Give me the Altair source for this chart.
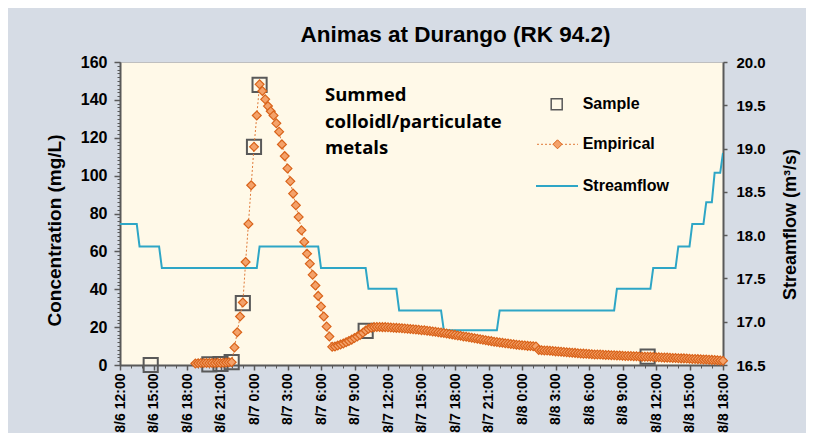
import altair as alt
import numpy as np
import pandas as pd

# ---------------- data (hours after 8/6 12:00) ----------------
x_tick_hours = [0, 3, 6, 9, 12, 15, 18, 21, 24, 27, 30, 33, 36, 39, 42, 45, 48, 51, 54]
x_tick_labels = ["8/6 12:00", "8/6 15:00", "8/6 18:00", "8/6 21:00", "8/7 0:00", "8/7 3:00",
                 "8/7 6:00", "8/7 9:00", "8/7 12:00", "8/7 15:00", "8/7 18:00", "8/7 21:00",
                 "8/8 0:00", "8/8 3:00", "8/8 6:00", "8/8 9:00", "8/8 12:00", "8/8 15:00", "8/8 18:00"]

sample_hours = [2.75, 8.0, 9.0, 10.0, 11.0, 12.0, 12.5, 22.0, 47.25]
sample_conc = [0.0, 0.3, 0.5, 1.5, 32.7, 115.2, 147.9, 18.0, 4.4]

# Empirical series: 15-minute readings starting 8/6 18:45 (hour 6.75)
emp_start_hour = 6.75
emp_step_hour = 0.25
emp_conc = [
    0.8,                                   # 18:45
    0.9, 1.0, 1.0, 1.1,                    # 19
    1.0, 1.1, 1.0, 1.2,                    # 20
    1.1, 1.2, 1.3, 1.4,                    # 21
    1.5, 9.2, 17.3, 25.6,                  # 22
    33.0, 54.4, 74.5, 94.9,                # 23
    115.2, 131.8, 148.2, 144.7,            # 0
    140.3, 136.7, 134.0, 131.8,            # 1
    127.6, 123.2, 116.5, 110.3,            # 2
    103.8, 97.0, 90.5, 84.3,               # 3
    78.2, 71.1, 65.0, 58.8,                # 4
    53.5, 47.6, 42.0, 36.5,                # 5
    30.9, 25.6, 20.3, 15.0,                # 6
    9.6, 9.8, 10.3, 10.8,                  # 7
    11.4, 12.0, 12.7, 13.4,                # 8
    14.2, 15.0, 15.9, 17.0,                # 9
    18.2, 19.1, 19.7, 20.0,                # 10
    20.1, 20.1, 20.0, 20.0,                # 11
    19.9, 19.8, 19.7, 19.6,                # 12
    19.5, 19.4, 19.3, 19.1,                # 13
    19.0, 18.9, 18.7, 18.6,                # 14
    18.4, 18.3, 18.1, 17.9,                # 15
    17.7, 17.5, 17.3, 17.1,                # 16
    16.9, 16.6, 16.4, 16.1,                # 17
    15.9, 15.6, 15.4, 15.1,                # 18
    14.9, 14.6, 14.4, 14.1,                # 19
    13.9, 13.6, 13.3, 13.1,                # 20
    12.8, 12.6, 12.3, 12.1,                # 21
    11.9, 11.7, 11.5, 11.3,                # 22
    11.1, 10.9, 10.7, 10.6,                # 23
    10.4, 10.3, 10.1, 10.0,                # 0
    9.9, 9.8, 7.9, 7.8,                    # 1
    7.7, 7.6, 7.5, 7.4,                    # 2
    7.2, 7.1, 7.0, 6.9,                    # 3
    6.7, 6.6, 6.5, 6.4,                    # 4
    6.2, 6.1, 6.0, 5.9,                    # 5
    5.8, 5.7, 5.6, 5.6,                    # 6
    5.5, 5.4, 5.3, 5.3,                    # 7
    5.2, 5.1, 5.0, 5.0,                    # 8
    4.9, 4.8, 4.8, 4.7,                    # 9
    4.6, 4.6, 4.5, 4.4,                    # 10
    4.4, 4.3, 4.3, 4.2,                    # 11
    4.1, 4.1, 4.0, 3.9,                    # 12
    3.9, 3.8, 3.7, 3.7,                    # 13
    3.6, 3.5, 3.5, 3.4,                    # 14
    3.3, 3.2, 3.2, 3.1,                    # 15
    3.0, 2.9, 2.9, 2.8,                    # 16
    2.7, 2.6, 2.5, 2.4,                    # 17
    2.3,                                   # 18:00
]

flow_hours = [0, 1.5, 1.75, 3.5, 3.75, 12.25, 12.5, 17.75, 18.0, 22.0, 22.25, 24.75, 25.0,
              28.75, 29.0, 33.75, 34.0, 44.25, 44.5, 47.5, 47.75, 49.75, 50.0, 51.0, 51.25,
              52.25, 52.5, 53.0, 53.25, 53.75, 54.0]
flow_q = [18.13, 18.13, 17.87, 17.87, 17.62, 17.62, 17.87, 17.87, 17.62, 17.62, 17.38, 17.38, 17.13,
          17.13, 16.90, 16.90, 17.13, 17.13, 17.38, 17.38, 17.62, 17.62, 17.87, 17.87, 18.13,
          18.13, 18.38, 18.38, 18.72, 18.72, 18.95]

annot_hour = [18.36]
annot_conc = [139.4]
annot_text = ["Summed\ncolloidl/particulate\nmetals"]

# ---------------- frames ----------------
emp_hours = emp_start_hour + emp_step_hour * np.arange(len(emp_conc))
df_s = pd.DataFrame({"h": sample_hours, "c": sample_conc, "lab": "Sample"})
df_e = pd.DataFrame({"h": emp_hours, "c": emp_conc, "lab": "Empirical", "lab2": "Empirical "})
df_q = pd.DataFrame({"h": flow_hours, "q": flow_q, "lab": "Streamflow"})
df_a = pd.DataFrame({"h": annot_hour, "c": annot_conc, "t": annot_text})

FONT = "Liberation Sans"
AX = "#595959"
ORANGE_LINE = "#E07B39"
ORANGE_FILL = "#F4A26A"
ORANGE_EDGE = "#D9631A"
TEAL = "#2EA6C6"

xscale = alt.Scale(domain=[0, 54], nice=False, zero=False)
yscale = alt.Scale(domain=[0, 160], nice=False, zero=False)
qscale = alt.Scale(domain=[16.5, 20], nice=False, zero=False)

label_expr = "[" + ",".join("'%s'" % s for s in x_tick_labels) + "][round(datum.value/3)]"

x_main = alt.Axis(orient="bottom", values=x_tick_hours, labelExpr=label_expr, labelAngle=270,
                  labelFont=FONT, labelFontSize=14, labelFontWeight="bold", labelColor="black",
                  labelPadding=3, labelFlush=False, labelOverlap=False, tickSize=5, tickColor=AX,
                  tickWidth=1.5, domainColor=AX, domainWidth=2, grid=False, title=None)
x_minor = alt.Axis(orient="bottom", values=list(range(0, 55)), labels=False, tickSize=3,
                   tickColor=AX, tickWidth=1, domain=False, grid=False, title=None)
y_main = alt.Axis(orient="left", values=list(range(0, 161, 20)), labelFont=FONT, labelFontSize=16,
                  labelFontWeight="bold", labelColor="black", labelPadding=7, tickSize=6,
                  tickColor=AX, tickWidth=1.5, domainColor=AX, domainWidth=2, grid=False,
                  title="Concentration (mg/L)", titleFont=FONT, titleFontSize=19,
                  titleFontWeight="bold", titleColor="black", titleAngle=270, titleX=-66,
                  titleY=168, titleAlign="center", titleBaseline="middle")
y_minor = alt.Axis(orient="left", values=list(range(0, 161, 2)), labels=False, tickSize=3,
                   tickColor=AX, tickWidth=1, domain=False, grid=False, title=None)
q_axis = alt.Axis(orient="right", values=[16.5, 17.0, 17.5, 18.0, 18.5, 19.0, 19.5, 20.0],
                  format=".1f", labelFont=FONT, labelFontSize=15, labelFontWeight="bold",
                  labelColor="black", labelPadding=9, tickSize=4, tickColor=AX, tickWidth=1.5,
                  domainColor=AX, domainWidth=2, grid=False, title="Streamflow (m³/s)",
                  titleFont=FONT, titleFontSize=18, titleFontWeight="bold", titleColor="black",
                  titleAngle=270, titleX=67, titleY=162, titleAlign="center",
                  titleBaseline="middle")

leg = dict(orient="none", title=None, padding=0, labelFont=FONT, labelFontSize=16,
           labelFontWeight="bold", labelColor="black", labelLimit=0)

flow = alt.Chart(df_q).mark_line(strokeWidth=2, clip=True).encode(
    x=alt.X("h:Q", scale=xscale, axis=None),
    y=alt.Y("q:Q", scale=qscale, axis=q_axis),
    stroke=alt.Stroke("lab:N", scale=alt.Scale(range=[TEAL]),
                      legend=alt.Legend(legendX=415, legendY=102, symbolType="stroke",
                                        symbolSize=1764, symbolStrokeWidth=2,
                                        symbolStrokeColor=TEAL, labelOffset=3.7, **leg)),
)

samples = alt.Chart(df_s).mark_point(filled=False, size=200, strokeWidth=2, color=AX,
                                     opacity=1).encode(
    x=alt.X("h:Q", scale=xscale, axis=x_main),
    y=alt.Y("c:Q", scale=yscale, axis=y_main),
    shape=alt.Shape("lab:N", scale=alt.Scale(range=["square"]),
                    legend=alt.Legend(legendX=428.7, legendY=34.3, symbolType="square",
                                      symbolSize=121, symbolStrokeWidth=1.5,
                                      symbolStrokeColor=AX, symbolFillColor="transparent",
                                      labelOffset=18, **leg)),
)

emp_line = alt.Chart(df_e).mark_line(strokeWidth=1, color=ORANGE_LINE).encode(
    x=alt.X("h:Q", scale=xscale, axis=x_minor),
    y=alt.Y("c:Q", scale=yscale, axis=y_minor),
    strokeDash=alt.StrokeDash("lab2:N", scale=alt.Scale(range=[[2, 2]]),
                              legend=alt.Legend(legendX=416.5, legendY=61.3, symbolType="stroke",
                                                symbolSize=1681, symbolStrokeWidth=1,
                                                symbolStrokeColor=ORANGE_LINE, labelExpr="''",
                                                **leg)),
)

emp_pts = alt.Chart(df_e).mark_point(shape="diamond", filled=True, size=78, stroke=ORANGE_EDGE,
                                     strokeWidth=1.2, opacity=1).encode(
    x=alt.X("h:Q", scale=xscale, axis=None),
    y=alt.Y("c:Q", scale=yscale, axis=None),
    fill=alt.Fill("lab:N", scale=alt.Scale(range=[ORANGE_FILL]),
                  legend=alt.Legend(legendX=429.5, legendY=74.3, symbolType="diamond",
                                    symbolSize=81, symbolStrokeWidth=1,
                                    symbolStrokeColor=ORANGE_EDGE, symbolFillColor=ORANGE_FILL,
                                    labelOffset=17.2, **leg)),
)

annot = alt.Chart(df_a).mark_text(align="left", baseline="alphabetic", font="Open Sans",
                                  fontSize=18.5, fontWeight="bold", color="black",
                                  lineBreak="\n", lineHeight=26.7).encode(
    x=alt.X("h:Q", scale=xscale, axis=None),
    y=alt.Y("c:Q", scale=yscale, axis=None),
    text="t:N",
)

conc = alt.layer(samples, emp_line, emp_pts, annot).resolve_axis(x="independent", y="independent")

chart = alt.layer(flow, conc).resolve_scale(y="independent").properties(
    width=603, height=303,
    padding={"left": 112, "top": 54, "right": 83, "bottom": 68},
    autosize=alt.AutoSizeParams(type="none"),
    background="#D6DCE5",
    title=alt.Title("Animas at Durango (RK 94.2)", font=FONT, fontSize=22.5, fontWeight="bold",
                    color="black", anchor="middle", frame="group", dx=34, offset=8),
).configure_view(fill="#FFF9E8", stroke="#BFBFBF", strokeWidth=1)

chart.save("out.html", embed_options={"renderer": "svg", "actions": False})
